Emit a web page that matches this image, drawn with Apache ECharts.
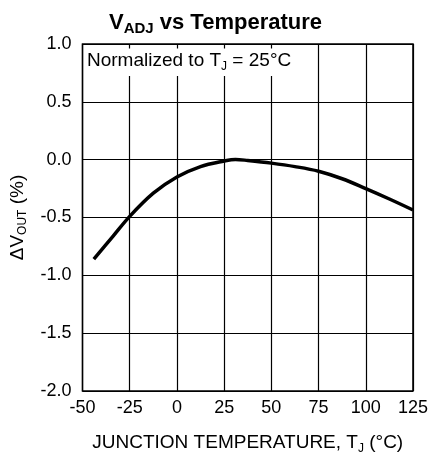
<!DOCTYPE html>
<html><head><meta charset="utf-8">
<script src="https://cdn.jsdelivr.net/npm/echarts@6/dist/echarts.min.js"></script>
<style>html,body{margin:0;padding:0;background:#fff}#c{width:431px;height:460px}</style>
</head><body><div id="c"></div>
<script>
const temps = [-44, -34, -25, -12.5, 0, 12.5, 25, 31, 37.5, 50, 62.5, 75, 87.5, 100, 112.5, 125];
const values = [-0.86, -0.665, -0.49, -0.29, -0.15, -0.06, -0.012, 0.002, -0.007, -0.03, -0.06, -0.10, -0.165, -0.25, -0.34, -0.435];
const xTicks = [-50, -25, 0, 25, 50, 75, 100, 125];
const yTicks = [-2.0, -1.5, -1.0, -0.5, 0.0, 0.5, 1.0];

const F = '"Liberation Sans", Arial, sans-serif';
const sub = (size, pad) => ({ fontFamily: F, fontSize: size, color: '#000', fontWeight: 'normal', padding: [pad, 0, 0, 0] });
const chart = echarts.init(document.getElementById('c'), null, {renderer: 'canvas'});
chart.setOption({
  animation: false,
  backgroundColor: '#fff',
  title: [{
    text: '{a|V}{s|ADJ}{a| vs Temperature}',
    left: 'center', top: 4,
    textStyle: { rich: {
      a: { fontFamily: F, fontSize: 22, fontWeight: 'bold', color: '#000' },
      s: { fontFamily: F, fontSize: 15, fontWeight: 'bold', color: '#000', padding: [12, 0, 0, 0] }
    } }
  }, {
    text: '{a|Normalized to T}{s|J}{a| = 25°C}',
    left: 84, top: 46,
    backgroundColor: '#fff',
    padding: [3, 3, 3, 3],
    textStyle: { fontWeight: 'normal', rich: {
      a: { fontFamily: F, fontSize: 19, fontWeight: 'normal', color: '#000' },
      s: sub(12, 12)
    } }
  }],
  grid: { left: 82, right: 18, top: 44, bottom: 67, show: true, borderColor: '#000', borderWidth: 1.5, z: 0 },
  xAxis: {
    type: 'value', min: -50, max: 125, interval: 25,
    axisLine: { show: false }, axisTick: { show: false },
    splitLine: { show: true, lineStyle: { color: '#000', width: 1.2 } },
    axisLabel: { fontFamily: F, fontSize: 18, color: '#000', margin: 8,
      formatter: v => xTicks.includes(v) ? String(v) : '' },
    name: '{a|JUNCTION TEMPERATURE, T}{s|J}{a| (°C)}',
    nameLocation: 'middle', nameGap: 40,
    nameTextStyle: { rich: {
      a: { fontFamily: F, fontSize: 19, color: '#000' },
      s: sub(12, 12)
    } }
  },
  yAxis: {
    type: 'value', min: -2, max: 1, interval: 0.5,
    axisLine: { show: false }, axisTick: { show: false },
    splitLine: { show: true, lineStyle: { color: '#000', width: 1.2 } },
    axisLabel: { fontFamily: F, fontSize: 18, color: '#000', margin: 11,
      formatter: v => yTicks.some(t => Math.abs(t - v) < 1e-9) ? v.toFixed(1) : '' },
    name: '{a|ΔV}{s|OUT}{a| (%)}',
    nameLocation: 'middle', nameGap: 54, nameRotate: 90,
    nameTextStyle: { rich: {
      a: { fontFamily: F, fontSize: 19, color: '#000' },
      s: sub(12, 10)
    } }
  },
  series: [{
    type: 'line', smooth: 0.35, showSymbol: false,
    data: temps.map((t, i) => [t, values[i]]),
    lineStyle: { color: '#000', width: 3.5 },
    z: 5
  }]
});
</script></body></html>
